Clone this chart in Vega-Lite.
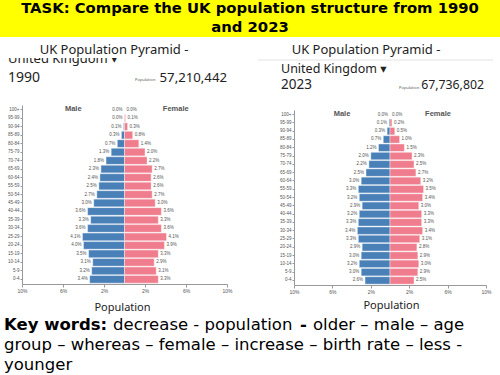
{
  "$schema": "https://vega.github.io/schema/vega-lite/v6.json",
  "padding": 0,
  "spacing": 0,
  "background": "white",
  "config": {
    "view": {"stroke": null},
    "font": "Noto Sans",
    "axis": {"grid": false}
  },
  "datasets": {
    "p1990": [
      {"age": "100+", "sex": "Male", "value": -0.0}, {"age": "100+", "sex": "Female", "value": 0.0},
      {"age": "95-99", "sex": "Male", "value": -0.0}, {"age": "95-99", "sex": "Female", "value": 0.1},
      {"age": "90-94", "sex": "Male", "value": -0.1}, {"age": "90-94", "sex": "Female", "value": 0.3},
      {"age": "85-89", "sex": "Male", "value": -0.3}, {"age": "85-89", "sex": "Female", "value": 0.8},
      {"age": "80-84", "sex": "Male", "value": -0.7}, {"age": "80-84", "sex": "Female", "value": 1.4},
      {"age": "75-79", "sex": "Male", "value": -1.3}, {"age": "75-79", "sex": "Female", "value": 2.0},
      {"age": "70-74", "sex": "Male", "value": -1.8}, {"age": "70-74", "sex": "Female", "value": 2.2},
      {"age": "65-69", "sex": "Male", "value": -2.3}, {"age": "65-69", "sex": "Female", "value": 2.7},
      {"age": "60-64", "sex": "Male", "value": -2.4}, {"age": "60-64", "sex": "Female", "value": 2.6},
      {"age": "55-59", "sex": "Male", "value": -2.5}, {"age": "55-59", "sex": "Female", "value": 2.6},
      {"age": "50-54", "sex": "Male", "value": -2.7}, {"age": "50-54", "sex": "Female", "value": 2.7},
      {"age": "45-49", "sex": "Male", "value": -3.0}, {"age": "45-49", "sex": "Female", "value": 3.0},
      {"age": "40-44", "sex": "Male", "value": -3.6}, {"age": "40-44", "sex": "Female", "value": 3.6},
      {"age": "35-39", "sex": "Male", "value": -3.3}, {"age": "35-39", "sex": "Female", "value": 3.3},
      {"age": "30-34", "sex": "Male", "value": -3.6}, {"age": "30-34", "sex": "Female", "value": 3.6},
      {"age": "25-29", "sex": "Male", "value": -4.1}, {"age": "25-29", "sex": "Female", "value": 4.1},
      {"age": "20-24", "sex": "Male", "value": -4.0}, {"age": "20-24", "sex": "Female", "value": 3.9},
      {"age": "15-19", "sex": "Male", "value": -3.5}, {"age": "15-19", "sex": "Female", "value": 3.3},
      {"age": "10-14", "sex": "Male", "value": -3.1}, {"age": "10-14", "sex": "Female", "value": 2.9},
      {"age": "5-9", "sex": "Male", "value": -3.2}, {"age": "5-9", "sex": "Female", "value": 3.1},
      {"age": "0-4", "sex": "Male", "value": -3.4}, {"age": "0-4", "sex": "Female", "value": 3.3}
    ],
    "p2023": [
      {"age": "100+", "sex": "Male", "value": -0.0}, {"age": "100+", "sex": "Female", "value": 0.0},
      {"age": "95-99", "sex": "Male", "value": -0.1}, {"age": "95-99", "sex": "Female", "value": 0.2},
      {"age": "90-94", "sex": "Male", "value": -0.3}, {"age": "90-94", "sex": "Female", "value": 0.5},
      {"age": "85-89", "sex": "Male", "value": -0.7}, {"age": "85-89", "sex": "Female", "value": 1.0},
      {"age": "80-84", "sex": "Male", "value": -1.2}, {"age": "80-84", "sex": "Female", "value": 1.5},
      {"age": "75-79", "sex": "Male", "value": -2.0}, {"age": "75-79", "sex": "Female", "value": 2.3},
      {"age": "70-74", "sex": "Male", "value": -2.2}, {"age": "70-74", "sex": "Female", "value": 2.5},
      {"age": "65-69", "sex": "Male", "value": -2.5}, {"age": "65-69", "sex": "Female", "value": 2.7},
      {"age": "60-64", "sex": "Male", "value": -3.0}, {"age": "60-64", "sex": "Female", "value": 3.2},
      {"age": "55-59", "sex": "Male", "value": -3.3}, {"age": "55-59", "sex": "Female", "value": 3.5},
      {"age": "50-54", "sex": "Male", "value": -3.2}, {"age": "50-54", "sex": "Female", "value": 3.4},
      {"age": "45-49", "sex": "Male", "value": -2.9}, {"age": "45-49", "sex": "Female", "value": 3.0},
      {"age": "40-44", "sex": "Male", "value": -3.2}, {"age": "40-44", "sex": "Female", "value": 3.3},
      {"age": "35-39", "sex": "Male", "value": -3.3}, {"age": "35-39", "sex": "Female", "value": 3.3},
      {"age": "30-34", "sex": "Male", "value": -3.4}, {"age": "30-34", "sex": "Female", "value": 3.4},
      {"age": "25-29", "sex": "Male", "value": -3.3}, {"age": "25-29", "sex": "Female", "value": 3.1},
      {"age": "20-24", "sex": "Male", "value": -2.9}, {"age": "20-24", "sex": "Female", "value": 2.8},
      {"age": "15-19", "sex": "Male", "value": -3.0}, {"age": "15-19", "sex": "Female", "value": 2.9},
      {"age": "10-14", "sex": "Male", "value": -3.2}, {"age": "10-14", "sex": "Female", "value": 3.0},
      {"age": "5-9", "sex": "Male", "value": -3.0}, {"age": "5-9", "sex": "Female", "value": 2.9},
      {"age": "0-4", "sex": "Male", "value": -2.6}, {"age": "0-4", "sex": "Female", "value": 2.5}
    ]
  },
  "vconcat": [
    {
      "width": 500,
      "height": 37,
      "view": {"fill": "#ffff00", "stroke": null},
      "data": {"values": [
        {"line": 1, "text": "TASK: Compare the UK population structure from 1990"},
        {"line": 2, "text": "and 2023"}
      ]},
      "mark": {"type": "text", "font": "DejaVu Sans", "fontWeight": "bold", "fontSize": 14.8, "color": "#000000", "baseline": "middle", "align": "center"},
      "encoding": {
        "y": {"field": "line", "type": "ordinal", "axis": null, "scale": {"type": "point", "padding": 0.5}},
        "text": {"field": "text"}
      }
    },
    {
      "spacing": 22,
      "hconcat": [
        {
          "spacing": 0,
          "vconcat": [
            {
              "width": 235,
              "height": 21,
              "data": {"values": [{"t": "UK Population Pyramid -"}]},
              "mark": {"type": "text", "fontSize": 13, "color": "#222222", "baseline": "middle", "align": "center"},
              "encoding": {
                "x": {"datum": 114, "type": "quantitative", "scale": {"domain": [0, 235]}, "axis": null},
                "y": {"datum": 13, "type": "quantitative", "scale": {"domain": [0, 21], "reverse": true}, "axis": null},
                "text": {"field": "t"}
              }
            },
            {
              "width": 235,
              "height": 46,
              "data": {"values": [
                {"k": "region", "t": "United Kingdom ▾"},
                {"k": "year", "t": "1990"},
                {"k": "plabel", "t": "Population"},
                {"k": "total", "t": "57,210,442"}
              ]},
              "layer": [
                {
                  "transform": [{"filter": "datum.k == 'region'"}],
                  "mark": {"type": "text", "clip": true, "align": "left", "baseline": "alphabetic", "fontSize": 13, "color": "#222222", "font": "Noto Sans, DejaVu Sans"},
                  "encoding": {
                    "x": {"datum": 8, "type": "quantitative", "scale": {"domain": [0, 235]}, "axis": null},
                    "y": {"datum": 5, "type": "quantitative", "scale": {"domain": [0, 46], "reverse": true}, "axis": null},
                    "text": {"field": "t"}
                  }
                },
                {
                  "transform": [{"filter": "datum.k == 'year'"}],
                  "mark": {"type": "text", "align": "left", "baseline": "alphabetic", "fontSize": 14, "color": "#222222"},
                  "encoding": {
                    "x": {"datum": 8, "type": "quantitative", "scale": {"domain": [0, 235]}, "axis": null},
                    "y": {"datum": 24, "type": "quantitative", "scale": {"domain": [0, 46], "reverse": true}, "axis": null},
                    "text": {"field": "t"}
                  }
                },
                {
                  "transform": [{"filter": "datum.k == 'plabel'"}],
                  "mark": {"type": "text", "align": "left", "baseline": "alphabetic", "fontSize": 4, "color": "#555555"},
                  "encoding": {
                    "x": {"datum": 135, "type": "quantitative", "scale": {"domain": [0, 235]}, "axis": null},
                    "y": {"datum": 23, "type": "quantitative", "scale": {"domain": [0, 46], "reverse": true}, "axis": null},
                    "text": {"field": "t"}
                  }
                },
                {
                  "transform": [{"filter": "datum.k == 'total'"}],
                  "mark": {"type": "text", "align": "right", "baseline": "alphabetic", "fontSize": 13.2, "color": "#222222"},
                  "encoding": {
                    "x": {"datum": 227, "type": "quantitative", "scale": {"domain": [0, 235]}, "axis": null},
                    "y": {"datum": 24, "type": "quantitative", "scale": {"domain": [0, 46], "reverse": true}, "axis": null},
                    "text": {"field": "t"}
                  }
                }
              ]
            },
            {
              "width": 227,
              "height": 179,
              "data": {"name": "p1990"},
              "layer": [
                {
                  "mark": {"type": "bar", "stroke": "white", "strokeWidth": 0.4},
                  "encoding": {
                    "y": {"field": "age", "type": "ordinal", "scale": {"domain": ["100+","95-99","90-94","85-89","80-84","75-79","70-74","65-69","60-64","55-59","50-54","45-49","40-44","35-39","30-34","25-29","20-24","15-19","10-14","5-9","0-4"], "paddingInner": 0.1, "paddingOuter": 0.1},
                      "axis": {"title": null, "offset": -22, "minExtent": 0, "labelFontSize": 4.5, "labelFont": "Liberation Sans", "labelColor": "#555555", "tickSize": 2, "labelPadding": 1, "domainColor": "#999999", "tickColor": "#999999"}},
                    "x": {"field": "value", "type": "quantitative", "scale": {"domain": [-10, 10], "range": [22, 227], "nice": false},
                      "axis": {"values": [-10,-8,-6,-4,-2,0,2,4,6,8,10], "labelExpr": "abs(datum.value) + '%'", "title": "Population", "titleX": 122, "titleAlign": "center", "titleFontSize": 11, "titleFontWeight": "normal", "titleColor": "#222222", "titleFont": "Noto Sans", "titlePadding": 8, "labelFontSize": 5, "labelFont": "Liberation Sans", "labelColor": "#555555", "labelFlush": false, "labelOverlap": false, "labelBound": false, "labelSeparation": 0, "tickSize": 3, "tickColor": "#999999", "domainColor": "#999999", "labelPadding": 1}},
                    "color": {"field": "sex", "type": "nominal", "scale": {"domain": ["Male", "Female"], "range": ["#4a80b8", "#f07d8d"]}, "legend": null}
                  }
                },
                {
                  "transform": [{"filter": "datum.sex == 'Male'"}],
                  "mark": {"type": "text", "align": "right", "dx": -2, "fontSize": 4.5, "font": "Liberation Sans", "color": "#555555", "text": {"expr": "format(abs(datum.value), '.1f') + '%'"}},
                  "encoding": {
                    "y": {"field": "age", "type": "ordinal"},
                    "x": {"field": "value", "type": "quantitative"}
                  }
                },
                {
                  "transform": [{"filter": "datum.sex == 'Female'"}],
                  "mark": {"type": "text", "align": "left", "dx": 2, "fontSize": 4.5, "font": "Liberation Sans", "color": "#555555", "text": {"expr": "format(abs(datum.value), '.1f') + '%'"}},
                  "encoding": {
                    "y": {"field": "age", "type": "ordinal"},
                    "x": {"field": "value", "type": "quantitative"}
                  }
                },
                {
                  "data": {"values": [{"t": "Male", "side": -5}, {"t": "Female", "side": 5}]},
                  "mark": {"type": "text", "fontSize": 7.5, "fontWeight": "bold", "font": "Liberation Sans", "color": "#555555", "baseline": "middle", "dy": -1},
                  "encoding": {
                    "y": {"datum": "100+", "type": "ordinal"},
                    "x": {"field": "side", "type": "quantitative"},
                    "text": {"field": "t"}
                  }
                }
              ]
            }
          ]
        },
        {
          "spacing": 0,
          "vconcat": [
            {
              "width": 235,
              "height": 72,
              "data": {"values": [
                {"k": "title", "t": "UK Population Pyramid -"},
                {"k": "region", "t": "United Kingdom ▾"},
                {"k": "year", "t": "2023"},
                {"k": "plabel", "t": "Population"},
                {"k": "total", "t": "67,736,802"}
              ]},
              "layer": [
                {
                  "transform": [{"filter": "datum.k == 'title'"}],
                  "mark": {"type": "rule", "color": "#e3e3e3", "strokeWidth": 1},
                  "encoding": {
                    "x": {"datum": 0, "type": "quantitative", "scale": {"domain": [0, 235]}, "axis": null},
                    "x2": {"datum": 235},
                    "y": {"datum": 23, "type": "quantitative", "scale": {"domain": [0, 72], "reverse": true}, "axis": null}
                  }
                },
                {
                  "transform": [{"filter": "datum.k == 'title'"}],
                  "mark": {"type": "text", "align": "center", "baseline": "middle", "fontSize": 13, "color": "#222222"},
                  "encoding": {
                    "x": {"datum": 108, "type": "quantitative", "scale": {"domain": [0, 235]}, "axis": null},
                    "y": {"datum": 13, "type": "quantitative", "scale": {"domain": [0, 72], "reverse": true}, "axis": null},
                    "text": {"field": "t"}
                  }
                },
                {
                  "transform": [{"filter": "datum.k == 'region'"}],
                  "mark": {"type": "text", "align": "left", "baseline": "alphabetic", "fontSize": 12.5, "color": "#222222", "font": "Noto Sans, DejaVu Sans"},
                  "encoding": {
                    "x": {"datum": 23, "type": "quantitative", "scale": {"domain": [0, 235]}, "axis": null},
                    "y": {"datum": 35.5, "type": "quantitative", "scale": {"domain": [0, 72], "reverse": true}, "axis": null},
                    "text": {"field": "t"}
                  }
                },
                {
                  "transform": [{"filter": "datum.k == 'year'"}],
                  "mark": {"type": "text", "align": "left", "baseline": "alphabetic", "fontSize": 13.5, "color": "#222222"},
                  "encoding": {
                    "x": {"datum": 23, "type": "quantitative", "scale": {"domain": [0, 235]}, "axis": null},
                    "y": {"datum": 52, "type": "quantitative", "scale": {"domain": [0, 72], "reverse": true}, "axis": null},
                    "text": {"field": "t"}
                  }
                },
                {
                  "transform": [{"filter": "datum.k == 'plabel'"}],
                  "mark": {"type": "text", "align": "left", "baseline": "alphabetic", "fontSize": 4, "color": "#555555"},
                  "encoding": {
                    "x": {"datum": 141, "type": "quantitative", "scale": {"domain": [0, 235]}, "axis": null},
                    "y": {"datum": 51.5, "type": "quantitative", "scale": {"domain": [0, 72], "reverse": true}, "axis": null},
                    "text": {"field": "t"}
                  }
                },
                {
                  "transform": [{"filter": "datum.k == 'total'"}],
                  "mark": {"type": "text", "align": "right", "baseline": "alphabetic", "fontSize": 12.3, "color": "#222222"},
                  "encoding": {
                    "x": {"datum": 226, "type": "quantitative", "scale": {"domain": [0, 235]}, "axis": null},
                    "y": {"datum": 52, "type": "quantitative", "scale": {"domain": [0, 72], "reverse": true}, "axis": null},
                    "text": {"field": "t"}
                  }
                }
              ]
            },
            {
              "width": 228,
              "height": 175,
              "data": {"name": "p2023"},
              "layer": [
                {
                  "mark": {"type": "bar", "stroke": "white", "strokeWidth": 0.4},
                  "encoding": {
                    "y": {"field": "age", "type": "ordinal", "scale": {"domain": ["100+","95-99","90-94","85-89","80-84","75-79","70-74","65-69","60-64","55-59","50-54","45-49","40-44","35-39","30-34","25-29","20-24","15-19","10-14","5-9","0-4"], "paddingInner": 0.1, "paddingOuter": 0.1},
                      "axis": {"title": null, "offset": -36, "minExtent": 0, "labelFontSize": 4.5, "labelFont": "Liberation Sans", "labelColor": "#555555", "tickSize": 2, "labelPadding": 1, "domainColor": "#999999", "tickColor": "#999999"}},
                    "x": {"field": "value", "type": "quantitative", "scale": {"domain": [-10, 10], "range": [36, 228], "nice": false},
                      "axis": {"values": [-10,-8,-6,-4,-2,0,2,4,6,8,10], "labelExpr": "abs(datum.value) + '%'", "title": "Population", "titleX": 133, "titleAlign": "center", "titleFontSize": 11, "titleFontWeight": "normal", "titleColor": "#222222", "titleFont": "Noto Sans", "titlePadding": 5, "labelFontSize": 5, "labelFont": "Liberation Sans", "labelColor": "#555555", "labelFlush": false, "labelOverlap": false, "labelBound": false, "labelSeparation": 0, "tickSize": 3, "tickColor": "#999999", "domainColor": "#999999", "labelPadding": 1}},
                    "color": {"field": "sex", "type": "nominal", "scale": {"domain": ["Male", "Female"], "range": ["#4a80b8", "#f07d8d"]}, "legend": null}
                  }
                },
                {
                  "transform": [{"filter": "datum.sex == 'Male'"}],
                  "mark": {"type": "text", "align": "right", "dx": -2, "fontSize": 4.5, "font": "Liberation Sans", "color": "#555555", "text": {"expr": "format(abs(datum.value), '.1f') + '%'"}},
                  "encoding": {
                    "y": {"field": "age", "type": "ordinal"},
                    "x": {"field": "value", "type": "quantitative"}
                  }
                },
                {
                  "transform": [{"filter": "datum.sex == 'Female'"}],
                  "mark": {"type": "text", "align": "left", "dx": 2, "fontSize": 4.5, "font": "Liberation Sans", "color": "#555555", "text": {"expr": "format(abs(datum.value), '.1f') + '%'"}},
                  "encoding": {
                    "y": {"field": "age", "type": "ordinal"},
                    "x": {"field": "value", "type": "quantitative"}
                  }
                },
                {
                  "data": {"values": [{"t": "Male", "side": -5}, {"t": "Female", "side": 5}]},
                  "mark": {"type": "text", "fontSize": 7.5, "fontWeight": "bold", "font": "Liberation Sans", "color": "#555555", "baseline": "middle", "dy": -1},
                  "encoding": {
                    "y": {"datum": "100+", "type": "ordinal"},
                    "x": {"field": "side", "type": "quantitative"},
                    "text": {"field": "t"}
                  }
                }
              ]
            }
          ]
        }
      ]
    },
    {
      "width": 500,
      "height": 59,
      "data": {"values": [
        {"line": 1, "seg": "kw", "t": "Key words:"},
        {"line": 1, "seg": "a", "t": "decrease - population"},
        {"line": 1, "seg": "dash", "t": "-"},
        {"line": 1, "seg": "c", "t": "older – male – age"},
        {"line": 2, "seg": "b", "t": "group – whereas – female – increase – birth rate – less -"},
        {"line": 3, "seg": "b", "t": "younger"}
      ]},
      "layer": [
        {
          "transform": [{"filter": "datum.seg == 'kw'"}],
          "mark": {"type": "text", "align": "left", "baseline": "middle", "dy": 3.5, "font": "DejaVu Sans", "fontWeight": "bold", "fontSize": 16.5, "color": "#000000"},
          "encoding": {
            "x": {"datum": 4, "type": "quantitative", "scale": {"domain": [0, 500]}, "axis": null},
            "y": {"field": "line", "type": "ordinal", "scale": {"type": "point", "padding": 0.5, "domain": [1, 2, 3]}, "axis": null},
            "text": {"field": "t"}
          }
        },
        {
          "transform": [{"filter": "datum.seg == 'a'"}],
          "mark": {"type": "text", "align": "left", "baseline": "middle", "dy": 3.5, "font": "DejaVu Sans", "fontSize": 16.5, "color": "#000000"},
          "encoding": {
            "x": {"datum": 113, "type": "quantitative", "scale": {"domain": [0, 500]}, "axis": null},
            "y": {"field": "line", "type": "ordinal", "scale": {"type": "point", "padding": 0.5, "domain": [1, 2, 3]}, "axis": null},
            "text": {"field": "t"}
          }
        },
        {
          "transform": [{"filter": "datum.seg == 'dash'"}],
          "mark": {"type": "text", "align": "left", "baseline": "middle", "dy": 3.5, "font": "DejaVu Sans", "fontWeight": "bold", "fontSize": 16.5, "color": "#000000"},
          "encoding": {
            "x": {"datum": 300, "type": "quantitative", "scale": {"domain": [0, 500]}, "axis": null},
            "y": {"field": "line", "type": "ordinal", "scale": {"type": "point", "padding": 0.5, "domain": [1, 2, 3]}, "axis": null},
            "text": {"field": "t"}
          }
        },
        {
          "transform": [{"filter": "datum.seg == 'c'"}],
          "mark": {"type": "text", "align": "left", "baseline": "middle", "dy": 3.5, "font": "DejaVu Sans", "fontSize": 16.5, "color": "#000000"},
          "encoding": {
            "x": {"datum": 313, "type": "quantitative", "scale": {"domain": [0, 500]}, "axis": null},
            "y": {"field": "line", "type": "ordinal", "scale": {"type": "point", "padding": 0.5, "domain": [1, 2, 3]}, "axis": null},
            "text": {"field": "t"}
          }
        },
        {
          "transform": [{"filter": "datum.seg == 'b'"}],
          "mark": {"type": "text", "align": "left", "baseline": "middle", "dy": 3.5, "font": "DejaVu Sans", "fontSize": 16.5, "color": "#000000"},
          "encoding": {
            "x": {"datum": 4, "type": "quantitative", "scale": {"domain": [0, 500]}, "axis": null},
            "y": {"field": "line", "type": "ordinal", "scale": {"type": "point", "padding": 0.5, "domain": [1, 2, 3]}, "axis": null},
            "text": {"field": "t"}
          }
        }
      ]
    }
  ]
}
